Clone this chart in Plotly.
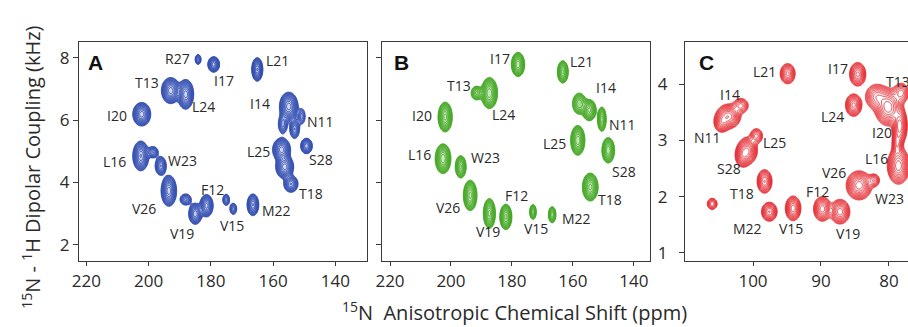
import numpy as np
import plotly.graph_objects as go

# ---------------- DATA (peak lists) ----------------
# Panel A (blue)
A_res = ["R27", "I17", "L21", "T13", "L24", "I20", "I14", "I14", "N11", "N11", "S28",
         "L25", "L25", "T18", "L16", "W23", "W23", "V26", "F12", "V19", "V19", "V15", "V15", "M22"]
A_ppm = [184.1, 179.1, 165.1, 192.9, 188.1, 202.2, 155.0, 156.9, 150.8, 153.1, 149.3,
         157.3, 156.3, 154.3, 202.5, 196.1, 198.6, 193.5, 181.4, 185.0, 188.1, 175.1, 172.8, 166.5]
A_khz = [7.95, 7.79, 7.63, 6.95, 6.83, 6.19, 6.44, 5.87, 6.12, 5.71, 5.17,
         5.05, 4.50, 3.95, 4.85, 4.53, 4.97, 3.73, 3.25, 2.99, 3.45, 3.44, 3.15, 3.28]
A_int = [0.35, 1.0, 0.9, 1.0, 1.0, 1.0, 1.0, 0.3, 0.2, 0.4, 0.7,
         1.0, 1.0, 0.6, 0.9, 0.6, 0.4, 1.0, 0.8, 0.7, 0.35, 0.3, 0.3, 0.6]
A_lw_ppm = [0.96, 1.9, 1.8, 3.0, 2.6, 2.9, 3.0, 1.45, 1.1, 1.55, 1.9,
            2.9, 2.9, 2.3, 2.6, 1.8, 1.7, 2.5, 2.15, 2.15, 1.8, 1.1, 1.1, 1.9]
A_lw_khz = [0.16, 0.25, 0.38, 0.42, 0.48, 0.38, 0.46, 0.3, 0.24, 0.3, 0.25,
            0.38, 0.38, 0.27, 0.48, 0.3, 0.18, 0.5, 0.36, 0.34, 0.18, 0.18, 0.18, 0.35]

# Panel B (green)
B_res = ["I17", "L21", "L24", "T13", "I20", "I14", "I14", "N11", "L25", "S28", "L16",
         "W23", "V26", "V19", "F12", "V15", "M22", "T18"]
B_ppm = [178.0, 163.3, 187.4, 191.6, 201.9, 154.6, 157.9, 150.5, 158.4, 148.4, 202.6,
         196.8, 193.7, 187.4, 182.0, 173.1, 166.8, 154.3]
B_khz = [7.79, 7.55, 6.87, 6.87, 6.10, 6.32, 6.53, 6.03, 5.35, 5.03, 4.76,
         4.50, 3.58, 3.00, 2.89, 3.05, 2.96, 3.85]
B_int = [1.0, 0.9, 1.0, 0.35, 0.9, 0.9, 0.4, 0.6, 1.0, 0.8, 1.0,
         0.7, 0.9, 0.9, 0.7, 0.5, 0.5, 0.9]
B_lw_ppm = [2.2, 1.8, 2.7, 1.8, 2.35, 2.25, 2.25, 1.45, 2.35, 2.1, 2.6,
            1.8, 2.25, 2.0, 2.0, 1.1, 1.25, 2.6]
B_lw_khz = [0.39, 0.36, 0.5, 0.22, 0.48, 0.34, 0.34, 0.39, 0.48, 0.41, 0.48,
            0.36, 0.49, 0.48, 0.41, 0.24, 0.26, 0.45]

# Panel C (red)
C_res = ["", "I14", "N11", "I14", "L25", "S28", "L25", "T18", "M22", "V15", "L21", "I17",
         "L24", "F12", "V19", "V26", "W23", "T13", "T13", "I20", "I20", "L16", "T13"]
C_ppm = [106.0, 103.6, 104.6, 101.8, 100.8, 101.5, 99.5, 98.3, 97.6, 94.1, 94.9, 84.6,
         85.2, 89.8, 87.2, 84.4, 82.2, 80.1, 81.8, 78.4, 78.8, 78.6, 78.2]
C_khz = [1.87, 3.43, 3.32, 3.62, 2.82, 2.73, 3.08, 2.27, 1.73, 1.79, 4.19, 4.18,
         3.63, 1.78, 1.73, 2.20, 2.29, 3.59, 3.78, 3.26, 2.95, 2.55, 3.85]
C_int = [0.35, 1.0, 0.6, 0.4, 1.0, 0.7, 0.4, 0.7, 0.7, 0.8, 0.6, 0.75,
         0.75, 0.8, 0.8, 1.0, 0.35, 1.0, 0.5, 0.8, 0.4, 1.0, 0.4]
C_lw_ppm = [0.72, 1.8, 1.1, 1.1, 1.45, 1.1, 0.9, 1.1, 1.15, 1.15, 1.1, 1.2,
            1.2, 1.3, 1.45, 1.9, 0.8, 2.0, 1.65, 1.1, 0.7, 1.65, 1.1]
C_lw_khz = [0.1, 0.22, 0.17, 0.13, 0.24, 0.2, 0.13, 0.21, 0.17, 0.22, 0.18, 0.21,
            0.2, 0.22, 0.22, 0.26, 0.11, 0.33, 0.22, 0.33, 0.22, 0.33, 0.17]

X_TICKS_AB = [220, 200, 180, 160, 140]
Y_TICKS_AB = [2, 4, 6, 8]
X_TICKS_C = [100, 90, 80]
Y_TICKS_C = [1, 2, 3, 4]

# ---------------- STYLE / LAYOUT ----------------
W, H = 908, 327
FONT = "Open Sans"
TXT = "#2a2a2a"
AX = "#3a3a3a"
BASE = 0.08

# label offsets in screen pixels (dx right, dy down) from the labelled peak
OFF_A = {"R27": (-21, -1), "I17": (10, 16), "L21": (20, -9), "T13": (-24, -8), "L24": (18, 12),
         "I20": (-25, 1), "I14": (-29, -3), "N11": (19, 5), "S28": (15, 14), "L25": (-23, 2),
         "T18": (20, 10), "L16": (-26, 6), "W23": (22, -5), "V26": (-25, 18), "F12": (6, -16),
         "V19": (-13, 20), "V15": (6, 26), "M22": (24, 6)}
OFF_B = {"I17": (-18, -6), "L21": (19, -10), "T13": (-18, -8), "L24": (14, 21), "I20": (-23, -2),
         "I14": (17, -23), "N11": (21, 5), "L25": (-23, 3), "S28": (16, 21), "L16": (-24, -4),
         "W23": (25, -9), "V26": (-22, 12), "V19": (-1, 18), "F12": (11, -21), "V15": (3, 17),
         "M22": (24, 4), "T18": (20, 12)}
OFF_C = {"L21": (-23, -2), "I17": (-20, -6), "T13": (10, -26), "I14": (1, -22), "N11": (-14, 15),
         "L24": (-21, 11), "I20": (-18, 7), "L25": (27, -8), "S28": (-14, 13), "L16": (-22, -7),
         "V26": (-25, -13), "W23": (15, 18), "T18": (-23, 12), "F12": (-5, -17), "V19": (8, 22),
         "M22": (-22, 17), "V15": (-2, 20)}

PANELS = [
    dict(res=A_res, ppm=A_ppm, khz=A_khz, h=A_int, wp=A_lw_ppm, wk=A_lw_khz, off=OFF_A,
         xr=[222.3, 129.9], yr=[1.47, 8.52], dom_x=[72.7, 362.7], color="#3550b0",
         tint=("#7488d0", "#dde3f6"), n=14, lw=0.9, letter="A", letter_x=0.025, ax="x", ay="y"),
    dict(res=B_res, ppm=B_ppm, khz=B_khz, h=B_int, wp=B_lw_ppm, wk=B_lw_khz, off=OFF_B,
         xr=[222.5, 134.8], yr=[1.47, 8.52], dom_x=[378.3, 647.7], color="#47a82a",
         tint=("#6fc04f", "#d6efca"), n=12, lw=0.9, letter="B", letter_x=0.037, ax="x2", ay="y2"),
    dict(res=C_res, ppm=C_ppm, khz=C_khz, h=C_int, wp=C_lw_ppm, wk=C_lw_khz, off=OFF_C,
         xr=[110.0, 77.2], yr=[0.85, 4.76], dom_x=[683.3, 908.0], color="#e3262c",
         tint=None, n=13, lw=0.9, letter="C", letter_x=0.052, ax="x3", ay="y3"),
]
DOM_Y = [1 - 262.7 / H, 1 - 42.0 / H]

fig = go.Figure()
annotations = []

for P in PANELS:
    xs = np.linspace(min(P["xr"]), max(P["xr"]), 400)
    ys = np.linspace(min(P["yr"]), max(P["yr"]), 320)
    X, Y = np.meshgrid(xs, ys)
    Z = np.zeros_like(X)
    for p, k, a, wp, wk in zip(P["ppm"], P["khz"], P["h"], P["wp"], P["wk"]):
        f = np.sqrt(2 * np.log(a / BASE))
        Z += a * np.exp(-0.5 * ((X - p) / (wp / f)) ** 2 - 0.5 * ((Y - k) / (wk / f)) ** 2)
    ZL = np.log10(Z + BASE * 1e-3)
    start = np.log10(BASE)
    end = np.log10(1.3)
    size = (end - start) / P["n"]
    if P["tint"]:
        zmin, zmax = start - size, end
        f0 = (0.5 * size) / (zmax - zmin)
        cs = [[0, "rgba(255,255,255,0)"], [f0, "rgba(255,255,255,0)"],
              [f0 + 0.002, P["tint"][0]], [1, P["tint"][1]]]
        fig.add_trace(go.Contour(
            x=xs, y=ys, z=ZL, xaxis=P["ax"], yaxis=P["ay"], zmin=zmin, zmax=zmax,
            contours=dict(coloring="fill", start=start, end=end, size=size),
            line=dict(width=P["lw"], color=P["color"], smoothing=1.0),
            colorscale=cs, showscale=False, hoverinfo="skip"))
    else:
        fig.add_trace(go.Contour(
            x=xs, y=ys, z=ZL, xaxis=P["ax"], yaxis=P["ay"],
            contours=dict(coloring="lines", start=start, end=end, size=size),
            line=dict(width=P["lw"], smoothing=1.0),
            colorscale=[[0, P["color"]], [1, P["color"]]],
            showscale=False, hoverinfo="skip"))

    seen = set()
    for r, p, k in zip(P["res"], P["ppm"], P["khz"]):
        if not r or r in seen:
            continue
        seen.add(r)
        dx, dy = P["off"][r]
        annotations.append(dict(x=p, y=k, xref=P["ax"], yref=P["ay"], text=r, showarrow=False,
                                xshift=dx, yshift=-dy, xanchor="center", yanchor="middle",
                                font=dict(family=FONT, size=14, color=TXT)))
    annotations.append(dict(x=P["letter_x"], y=0.905, xref=P["ax"] + " domain",
                            yref=P["ay"] + " domain", text="<b>%s</b>" % P["letter"],
                            showarrow=False, xanchor="left", yanchor="middle",
                            font=dict(family="Liberation Sans", size=21, color="#111")))

annotations.append(dict(x=25 / W, y=1 - 168 / H, xref="paper", yref="paper",
                        text="<sup>15</sup>N - <sup>1</sup>H Dipolar Coupling (kHz)",
                        textangle=-90, showarrow=False, xanchor="center", yanchor="middle",
                        font=dict(family=FONT, size=20, color=TXT)))
annotations.append(dict(x=511 / W, y=1 - 313 / H, xref="paper", yref="paper",
                        text="<sup>15</sup>N\u00a0 Anisotropic Chemical Shift (ppm)",
                        showarrow=False, xanchor="center", yanchor="middle",
                        font=dict(family=FONT, size=20, color=TXT)))

def xax(P, ticks):
    return dict(domain=[P["dom_x"][0] / W, min(P["dom_x"][1] / W, 1.0)], range=P["xr"],
                tickvals=ticks, ticks="outside", ticklen=4, tickwidth=1.2, tickcolor=AX,
                showline=True, mirror=True, linecolor=AX, linewidth=1.4, showgrid=False,
                zeroline=False, anchor=P["ay"],
                tickfont=dict(family=FONT, size=17, color=TXT))

def yax(P, ticks, labels=True, mirror=True, standoff=0):
    return dict(domain=DOM_Y, range=P["yr"], tickvals=ticks, ticks="outside", ticklen=5,
                tickwidth=1.2, tickcolor=AX, showline=True, mirror=mirror, linecolor=AX,
                linewidth=1.4, showgrid=False, zeroline=False, anchor=P["ax"],
                showticklabels=labels, ticklabelstandoff=standoff,
                tickfont=dict(family=FONT, size=17, color=TXT))

fig.update_layout(
    width=W, height=H, margin=dict(l=0, r=0, t=0, b=0),
    paper_bgcolor="white", plot_bgcolor="white", showlegend=False,
    xaxis=xax(PANELS[0], X_TICKS_AB), yaxis=yax(PANELS[0], Y_TICKS_AB),
    xaxis2=xax(PANELS[1], X_TICKS_AB), yaxis2=yax(PANELS[1], Y_TICKS_AB, labels=False),
    xaxis3=xax(PANELS[2], X_TICKS_C), yaxis3=yax(PANELS[2], Y_TICKS_C, mirror=False, standoff=8),
    annotations=annotations)

fig.write_html("out.html")
